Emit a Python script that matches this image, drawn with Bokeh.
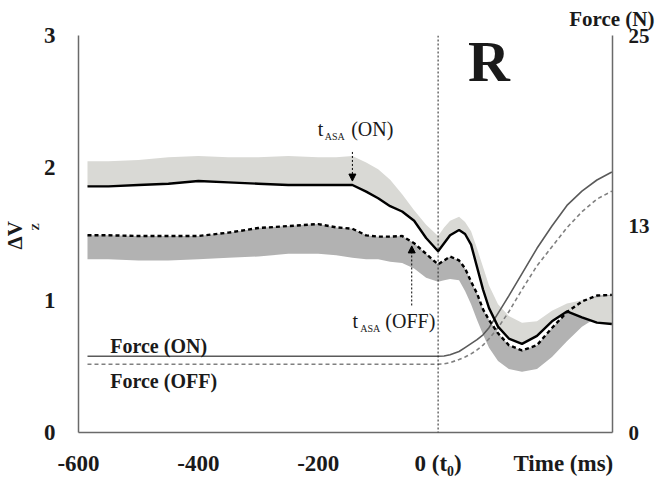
from bokeh.plotting import figure
from bokeh.models import Range1d, LinearAxis, FixedTicker, Span, Label, Arrow, NormalHead, Title
from bokeh.embed import file_html
from bokeh.resources import INLINE

# ---- data ----
time_ms = [-585, -550, -500, -450, -400, -350, -300, -250, -200, -170, -143, -120, -100, -80, -60, -40, -20,
           0, 10, 20, 35, 45, 55, 65, 75, 85, 100, 118, 140, 165, 190, 215, 240, 265, 290]

dvz_on_mean = [1.86, 1.86, 1.87, 1.88, 1.90, 1.89, 1.88, 1.87, 1.87, 1.87, 1.87, 1.82, 1.77, 1.71, 1.67, 1.60, 1.47,
               1.37, 1.43, 1.49, 1.53, 1.50, 1.42, 1.25, 1.08, 0.94, 0.80, 0.71, 0.67, 0.73, 0.84, 0.915, 0.87, 0.83, 0.82]
dvz_on_upper = [2.05, 2.05, 2.06, 2.08, 2.09, 2.08, 2.08, 2.09, 2.08, 2.08, 2.09, 2.04, 1.99, 1.91, 1.80, 1.68, 1.57,
                1.485, 1.55, 1.60, 1.63, 1.59, 1.52, 1.39, 1.25, 1.11, 0.97, 0.88, 0.83, 0.84, 0.92, 0.975, 1.00, 1.02, 1.035]
dvz_off_mean = [1.49, 1.49, 1.485, 1.485, 1.485, 1.51, 1.545, 1.56, 1.575, 1.55, 1.54, 1.49, 1.48, 1.48, 1.485, 1.43, 1.35,
                1.27, 1.30, 1.33, 1.30, 1.24, 1.14, 1.05, 0.93, 0.85, 0.75, 0.66, 0.62, 0.66, 0.79, 0.91, 0.99, 1.035, 1.04]
dvz_off_lower = [1.31, 1.31, 1.30, 1.30, 1.31, 1.32, 1.33, 1.35, 1.35, 1.34, 1.32, 1.31, 1.31, 1.29, 1.28, 1.24, 1.17,
                 1.14, 1.15, 1.16, 1.15, 1.07, 0.97, 0.85, 0.74, 0.64, 0.54, 0.48, 0.46, 0.48, 0.57, 0.69, 0.80, 0.87, 0.90]
force_on = [4.8, 4.8, 4.8, 4.8, 4.8, 4.8, 4.8, 4.8, 4.8, 4.8, 4.8, 4.8, 4.8, 4.8, 4.8, 4.8, 4.8,
            4.8, 4.82, 4.9, 5.1, 5.35, 5.6, 5.85, 6.15, 6.6, 7.5, 8.6, 10.0, 11.6, 13.0, 14.3, 15.2, 15.9, 16.4]
force_off = [4.3, 4.3, 4.3, 4.3, 4.3, 4.3, 4.3, 4.3, 4.3, 4.3, 4.3, 4.3, 4.3, 4.3, 4.3, 4.3, 4.3,
             4.3, 4.32, 4.4, 4.6, 4.75, 4.95, 5.2, 5.5, 5.9, 6.6, 7.6, 9.0, 10.5, 11.7, 12.9, 13.9, 14.7, 15.2]

x_ticks = [-600, -400, -200, 0, 209]
x_tick_labels = ["-600", "-400", "-200", "0 (t\u2080)", "Time (ms)"]
y_ticks = [0, 1, 2, 3]
force_ticks = [0, 13, 25]

t_asa_on = -143
t_asa_off = -44

SERIF = "Liberation Serif"

p = figure(width=656, height=478, output_backend="svg", toolbar_location=None,
           x_range=Range1d(-600, 291), y_range=Range1d(0, 3),
           min_border_left=70, min_border_right=44, min_border_top=35, min_border_bottom=43)
p.extra_y_ranges = {"force": Range1d(0, 25)}
p.outline_line_color = None
p.xgrid.visible = False
p.ygrid.visible = False
p.background_fill_color = "white"

def style_axis(ax, standoff, size="23px"):
    ax.axis_line_color = "#6a6a6a"
    ax.axis_line_width = 1.5
    ax.major_tick_line_color = None
    ax.minor_tick_line_color = None
    ax.major_label_text_font = SERIF
    ax.major_label_text_font_style = "bold"
    ax.major_label_text_font_size = size
    ax.major_label_text_color = "#1a1a1a"
    ax.major_label_standoff = standoff

p.xaxis.ticker = FixedTicker(ticks=x_ticks)
p.xaxis.major_label_overrides = {t: l for t, l in zip(x_ticks, x_tick_labels)}
style_axis(p.xaxis[0], 12)
p.yaxis.ticker = FixedTicker(ticks=y_ticks)
style_axis(p.yaxis[0], 17)

raxis = LinearAxis(y_range_name="force", ticker=FixedTicker(ticks=force_ticks))
style_axis(raxis, 10, "21px")
p.add_layout(raxis, "right")

# titles outside the frame: axis name pieces
p.add_layout(Title(text="Z", align="left", offset=202, standoff=0, text_font=SERIF,
                   text_font_size="11px", text_font_style="bold", text_color="#1a1a1a"), "left")
p.add_layout(Title(text="\u0394V", align="left", offset=183, standoff=0, text_font=SERIF,
                   text_font_size="21px", text_font_style="bold", text_color="#1a1a1a"), "left")
p.add_layout(Title(text="Force (N)", align="right", vertical_align="top", offset=-42, standoff=6,
                   text_font=SERIF, text_font_size="21px", text_font_style="bold",
                   text_color="#1a1a1a"), "above")

# bands
p.varea(x=time_ms, y1=dvz_off_lower, y2=dvz_off_mean, fill_color="#b2b2b2")
p.varea(x=time_ms, y1=dvz_on_mean, y2=dvz_on_upper, fill_color="#d9d9d5")

# force lines
p.line(time_ms, force_on, y_range_name="force", line_color="#5a5a5a", line_width=1.6)
p.line(time_ms, force_off, y_range_name="force", line_color="#808080", line_width=1.6, line_dash="4 3")

# mean lines
p.line(time_ms, dvz_on_mean, line_color="black", line_width=2.4)
p.line(time_ms, dvz_off_mean, line_color="black", line_width=2.4, line_dash="4 3")

# t0 line
p.add_layout(Span(location=0, dimension="height", line_color="#222222", line_width=1, line_dash="2 2"))

# arrows
p.add_layout(Arrow(end=NormalHead(size=7, fill_color="black", line_color="black", line_width=1),
                   x_start=t_asa_on, y_start=2.12, x_end=t_asa_on, y_end=1.90,
                   line_dash="2 2", line_width=1, line_color="black"))
p.add_layout(Arrow(end=NormalHead(size=7, fill_color="black", line_color="black", line_width=1),
                   x_start=t_asa_off, y_start=0.96, x_end=t_asa_off, y_end=1.41,
                   line_dash="2 2", line_width=1, line_color="black"))

def lab(x, y, text, size, bold=True, **kw):
    p.add_layout(Label(x=x, y=y, text=text, text_font=SERIF, text_font_size=size,
                       text_font_style="bold" if bold else "normal", text_color="#1a1a1a",
                       text_baseline="alphabetic", text_align=kw.pop("align", "left"), **kw))

lab(85, 2.805, "R", "58px", align="center")
lab(-201, 2.295, "t", "20px", bold=False)
lab(-189, 2.24, "ASA", "10px", bold=False)
lab(-145, 2.295, "(ON)", "20px", bold=False)
lab(-143, 0.84, "t", "20px", bold=False)
lab(-130, 0.785, "ASA", "10px", bold=False)
lab(-88, 0.84, "(OFF)", "20px", bold=False)
lab(-547, 0.655, "Force (ON)", "20px")
lab(-547, 0.39, "Force (OFF)", "20px")

open("out.html", "w").write(file_html(p, INLINE))
